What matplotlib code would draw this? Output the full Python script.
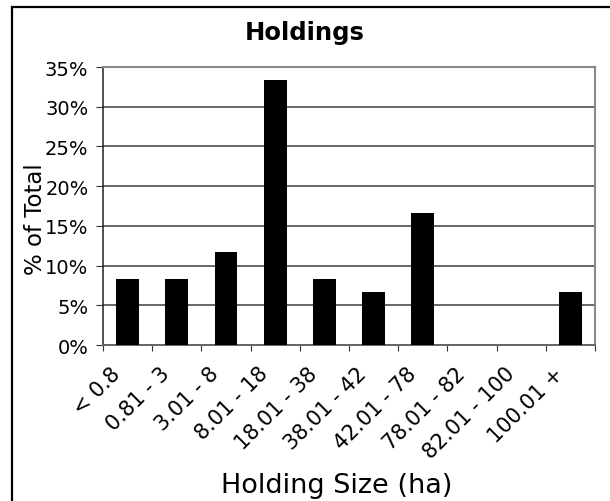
import numpy as np
import matplotlib.pyplot as plt
from matplotlib.patches import Rectangle
from matplotlib.transforms import ScaledTranslation

# holding size classes and share of holdings
categories = ['< 0.8', '0.81 - 3', '3.01 - 8', '8.01 - 18', '18.01 - 38',
              '38.01 - 42', '42.01 - 78', '78.01 - 82', '82.01 - 100', '100.01 +']
share = [8.33, 8.33, 11.67, 33.33, 8.33, 6.67, 16.67, 0, 0, 6.67]
yticks = [0, 5, 10, 15, 20, 25, 30, 35]

plt.rcParams['font.family'] = ['DejaVu Sans']

fig = plt.figure(figsize=(6.1, 5.02), dpi=100)
ax = fig.add_axes([103/610, 1 - 346/502, 492/610, 278/502])

# outer chart border
fig.patches.append(Rectangle((12/610, -0.2), 1.2, 1 - 8/502 + 0.2, transform=fig.transFigure,
                             fill=False, edgecolor='black', linewidth=1.6))

x = np.arange(len(categories)) + 0.5
ax.bar(x, share, width=0.46, color='black', zorder=3)

ax.set_xlim(0, len(categories))
ax.set_ylim(0, 35)
ax.set_yticks(yticks)
ax.set_yticklabels([f'{v}%' for v in yticks], fontsize=14)
ax.yaxis.grid(True, color='#666666', linewidth=1.4, zorder=0)

ax.set_xticks(np.arange(len(categories) + 1))
ax.set_xticklabels([])
ax.set_xticks(x, minor=True)
ax.set_xticklabels(categories, minor=True, rotation=45, ha='right', va='center',
                   rotation_mode='anchor', fontsize=15)
ax.tick_params(axis='x', which='minor', length=0, pad=18)
ax.tick_params(axis='x', which='major', length=4.3, color='#333333')
ax.tick_params(axis='y', length=5, color='#333333', pad=5.5)
shift = ScaledTranslation(-0.1, 0, fig.dpi_scale_trans)
for lab in ax.get_xticklabels(minor=True):
    lab.set_transform(lab.get_transform() + shift)

ax.spines['left'].set_color('#222222')
ax.spines['left'].set_linewidth(1.1)
ax.spines['bottom'].set_color('#666666')
ax.spines['bottom'].set_linewidth(1.4)
for side in ['right', 'top']:
    ax.spines[side].set_color('#888888')
    ax.spines[side].set_linewidth(1.5)

fig.text(0.5, 1 - 33/502, 'Holdings', ha='center', va='center',
         fontsize=17.5, fontweight='bold')
fig.text(36/610, 1 - 219/502, '% of Total', rotation=90, ha='center', va='center',
         fontsize=16.5)
fig.text(337/610, 1 - 486/502, 'Holding Size (ha)', ha='center', va='center',
         fontsize=19.5)

fig.savefig('out.png', dpi=100)
